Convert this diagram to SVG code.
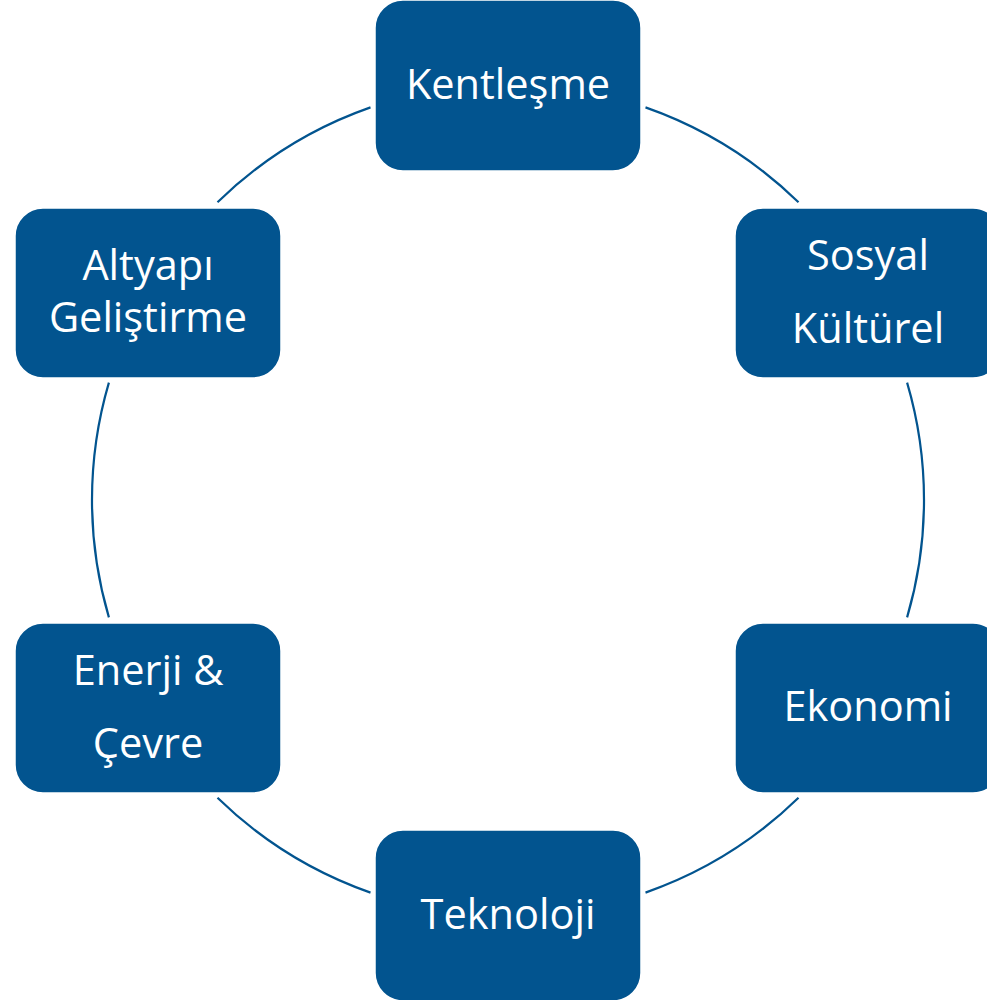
<svg xmlns="http://www.w3.org/2000/svg" width="987" height="1000" viewBox="0 0 987 1000">
<style>
.box{fill:#02548f;stroke:#ffffff;stroke-width:1.5}
.lbl{fill:#ffffff;font-family:"Open Sans","Noto Sans",sans-serif;font-size:41.5px;text-anchor:middle}
.arc{fill:none;stroke:#02548f;stroke-width:2.2}
</style>
<rect width="987" height="1000" fill="#ffffff"/>
<g id="connectors">
<path class="arc" d="M645.5,107.4 A416,416 0 0 1 798.5,202.3"/>
<path class="arc" d="M907.1,382.6 A416,416 0 0 1 907.1,617.4"/>
<path class="arc" d="M798.5,797.7 A416,416 0 0 1 645.5,892.6"/>
<path class="arc" d="M370.5,892.6 A416,416 0 0 1 217.5,797.7"/>
<path class="arc" d="M108.9,617.4 A416,416 0 0 1 108.9,382.6"/>
<path class="arc" d="M217.5,202.3 A416,416 0 0 1 370.5,107.4"/>
</g>
<g id="kentlesme">
<rect class="box" x="375" y="0" width="266" height="171" rx="28"/>
<text class="lbl" x="508" y="99">Kentleşme</text>
</g>
<g id="sosyal-kulturel">
<rect class="box" x="735" y="208" width="266" height="170" rx="28"/>
<text class="lbl" x="868" y="270">Sosyal</text>
<text class="lbl" x="868" y="343">Kültürel</text>
</g>
<g id="ekonomi">
<rect class="box" x="735" y="623" width="266" height="170" rx="28"/>
<text class="lbl" x="868" y="721">Ekonomi</text>
</g>
<g id="teknoloji">
<rect class="box" x="375" y="830" width="266" height="171" rx="28"/>
<text class="lbl" x="508" y="929">Teknoloji</text>
</g>
<g id="enerji-cevre">
<rect class="box" x="15" y="623" width="266" height="170" rx="28"/>
<text class="lbl" x="148" y="685">Enerji &amp;</text>
<text class="lbl" x="148" y="758">Çevre</text>
</g>
<g id="altyapi">
<rect class="box" x="15" y="208" width="266" height="170" rx="28"/>
<text class="lbl" x="148" y="280">Altyapı</text>
<text class="lbl" x="148" y="332">Geliştirme</text>
</g>
</svg>
